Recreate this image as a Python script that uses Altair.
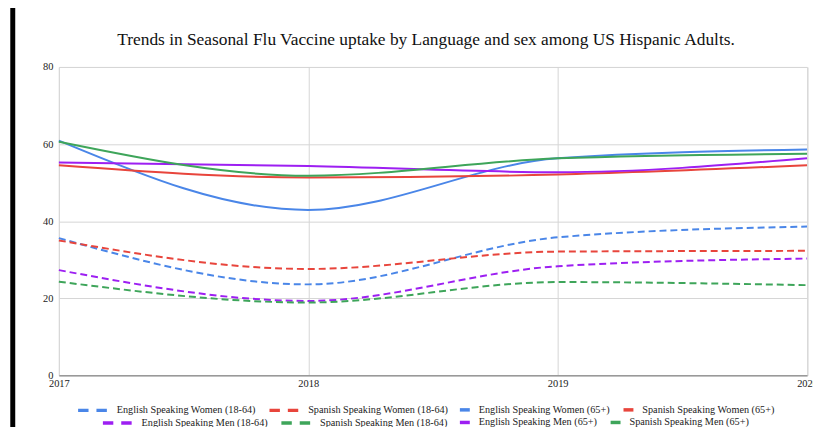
import altair as alt
import pandas as pd

years = [2017, 2018, 2019, 2020]

ew_18_64 = [35.6, 23.6, 35.8, 38.6]
sw_18_64 = [35.0, 27.6, 32.1, 32.3]
ew_65 = [60.9, 42.9, 56.3, 58.6]
sw_65 = [54.5, 51.3, 52.1, 54.5]
em_18_64 = [27.3, 19.3, 28.3, 30.3]
sm_18_64 = [24.3, 18.9, 24.2, 23.4]
em_65 = [55.2, 54.3, 52.7, 56.3]
sm_65 = [60.6, 51.8, 56.3, 57.5]

series_names = [
    "English Speaking Women (18-64)", "Spanish Speaking Women (18-64)",
    "English Speaking Women (65+)", "Spanish Speaking Women (65+)",
    "English Speaking Men (18-64)", "Spanish Speaking Men (18-64)",
    "English Speaking Men (65+)", "Spanish Speaking Men (65+)",
]
series_values = [ew_18_64, sw_18_64, ew_65, sw_65, em_18_64, sm_18_64, em_65, sm_65]

BLUE = "#4a86e8"
RED = "#e8453c"
PURPLE = "#9d1ff2"
GREEN = "#3ea55a"

FONT = "Liberation Serif"

rows = []
for name, vals in zip(series_names, series_values):
    for yr, v in zip(years, vals):
        rows.append({"series": name, "year": yr, "value": v})
df = pd.DataFrame(rows)

x_enc = alt.X(
    "year:Q",
    scale=alt.Scale(domain=[2017, 2020], nice=False, zero=False),
    axis=alt.Axis(values=years, format="d", title=None, labelFlush=False,
                  ticks=False, labelPadding=3, labelFontSize=10.5, labelFont=FONT,
                  labelColor="#222", domainColor="#999", domainWidth=1.5,
                  gridColor="#d6d6d6", labelAngle=0),
)
y_enc = alt.Y(
    "value:Q",
    scale=alt.Scale(domain=[0, 80], nice=False),
    axis=alt.Axis(values=[0, 20, 40, 60, 80], title=None, ticks=False, domain=False,
                  labelPadding=6, labelFontSize=10.5, labelFont=FONT,
                  labelColor="#222", gridColor="#d6d6d6"),
)


def layer(names, colors, dash, lx, ly, sym_size):
    sub = df[df["series"].isin(names)]
    mark_kw = dict(interpolate="monotone", strokeWidth=2)
    leg_kw = dict(
        orient="none", legendX=lx, legendY=ly, direction="horizontal", title=None,
        symbolType="stroke", symbolSize=sym_size, symbolStrokeWidth=3.5,
        labelFont=FONT, labelFontSize=10.3, labelColor="#222", labelOffset=7,
        columnPadding=6, padding=0, symbolOpacity=1,
    )
    if dash:
        mark_kw["strokeDash"] = [7, 4]
        leg_kw["symbolDash"] = [10.5, 8]
    return alt.Chart(sub).mark_line(**mark_kw).encode(
        x=x_enc,
        y=y_enc,
        color=alt.Color("series:N", scale=alt.Scale(domain=names, range=colors),
                        legend=alt.Legend(**leg_kw)),
    )


la = layer(series_names[0:2], [BLUE, RED], True, 17.4, 329.3, 900)
lb = layer(series_names[2:4], [BLUE, RED], False, 402.4, 338.8, 100)
lc = layer(series_names[4:6], [PURPLE, GREEN], True, 42.4, 342.0, 900)
ld = layer(series_names[6:8], [PURPLE, GREEN], False, 402.4, 351.5, 100)

bar = alt.Chart(pd.DataFrame({"a": [0]})).mark_rect(color="black").encode(
    x=alt.value(-49), x2=alt.value(-44), y=alt.value(-60), y2=alt.value(420)
)

chart = alt.layer(la, lb, lc, ld, bar).resolve_scale(color="independent").properties(
    width=754.5,
    height=311,
    autosize=alt.AutoSizeParams(type="none"),
    padding={"left": 51.3, "top": 57.7, "right": 6, "bottom": 50},
    title=alt.TitleParams(
        "Trends in Seasonal Flu Vaccine uptake by Language and sex among US Hispanic Adults.",
        font=FONT, fontSize=17.5, fontWeight="normal", color="#111", anchor="middle",
        frame="group", dx=-7, offset=0, dy=41.5,
    ),
).configure_view(stroke=None).configure(background="white")

chart.save("out.html", embed_options={"renderer": "svg", "actions": False})
